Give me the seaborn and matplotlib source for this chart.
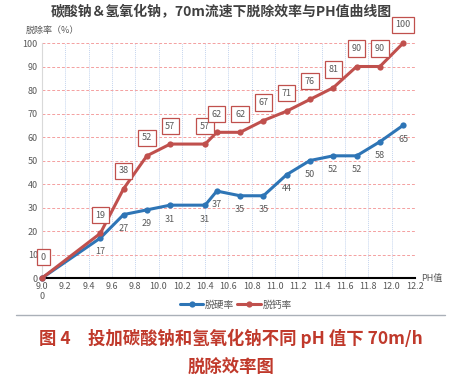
import matplotlib
matplotlib.use("Agg")
import matplotlib.pyplot as plt
import seaborn as sns
import pandas as pd
import numpy as np

ph = [9.0, 9.5, 9.7, 9.9, 10.1, 10.4, 10.5, 10.7, 10.9, 11.1, 11.3, 11.5, 11.7, 11.9, 12.1]
hard = [0, 17, 27, 29, 31, 31, 37, 35, 35, 44, 50, 52, 52, 58, 65]
calc = [0, 19, 38, 52, 57, 57, 62, 62, 67, 71, 76, 81, 90, 90, 100]
series_names = ["脱硬率", "脱钙率"]
xticks = [9.0, 9.2, 9.4, 9.6, 9.8, 10.0, 10.2, 10.4, 10.6, 10.8, 11.0, 11.2, 11.4, 11.6, 11.8, 12.0, 12.2]

sns.set_style("white")
plt.rcParams['font.family'] = ['Noto Sans CJK SC', 'DejaVu Sans']

df = pd.DataFrame({
    "pH": ph * 2,
    "rate": hard + calc,
    "series": [series_names[0]] * len(ph) + [series_names[1]] * len(ph),
})

blue = "#2e75b6"
red = "#c0504d"

fig = plt.figure(figsize=(4.62, 3.84), dpi=100)
ax = fig.add_axes([0.091, 0.276, 0.807, 0.612])

sns.lineplot(data=df, x="pH", y="rate", hue="series", palette=[blue, red],
             marker="o", markersize=4.5, markeredgewidth=0, linewidth=2.2,
             ax=ax, legend=True, clip_on=False, zorder=3)

ax.set_xlim(9.0, 12.2)
ax.set_ylim(0, 100)
ax.set_xticks(xticks)
ax.set_xticklabels([f"{t:.1f}" for t in xticks])
ax.set_yticks(range(0, 101, 10))
ax.tick_params(axis="both", labelsize=6.5, labelcolor="#595959", length=0, pad=3)
ax.tick_params(axis="x", length=3, direction="in", color="black", width=1)

for y in range(10, 101, 10):
    ax.axhline(y, color="#f4a0a0", linestyle=(0, (3, 2)), linewidth=0.7, zorder=1)
for x in xticks[1:]:
    ax.axvline(x, color="#c5d5ee", linestyle=(0, (1, 1)), linewidth=0.7, zorder=1)

for s in ["top", "right"]:
    ax.spines[s].set_visible(False)
ax.spines["left"].set_color("#d9d9d9")
ax.spines["left"].set_linewidth(0.8)
ax.spines["bottom"].set_color("black")
ax.spines["bottom"].set_linewidth(1.5)
ax.set_xlabel("")
ax.set_ylabel("")

# labels
box = dict(boxstyle="square,pad=0.4", fc="white", ec=red, lw=0.9)
for i, (x, v) in enumerate(zip(ph, calc)):
    off = (1, 15) if i == 0 else (0, 13)
    ax.annotate(str(v), (x, v), xytext=off, textcoords="offset points",
                ha="center", va="center", fontsize=6.5, color="#595959",
                bbox=box, annotation_clip=False, zorder=5)
for i, (x, v) in enumerate(zip(ph, hard)):
    dy = -10 if i != 0 else -13
    ax.annotate(str(v), (x, v), xytext=(0, dy), textcoords="offset points",
                ha="center", va="center", fontsize=6.5, color="#595959",
                annotation_clip=False, zorder=5)

leg = ax.legend(loc="upper center", bbox_to_anchor=(0.52, -0.055), ncol=2,
                frameon=False, fontsize=7, handlelength=2.4, columnspacing=0.3,
                handletextpad=0.2, labelcolor="#595959")

fig.text(0.478, 0.968, "碳酸钠＆氢氧化钠，70m流速下脱除效率与PH值曲线图",
         ha="center", va="center", fontsize=10, fontweight="bold", color="#404040")
fig.text(0.055, 0.922, "脱除率（%）", ha="left", va="center", fontsize=6.5, color="#595959")
fig.text(0.912, 0.276, "PH值", ha="left", va="center", fontsize=6.5, color="#595959")

fig.add_artist(plt.Line2D([0.035, 0.963], [0.18, 0.18], color="#aab0b8", linewidth=1))
fig.text(0.5, 0.12, "图 4　投加碳酸钠和氢氧化钠不同 pH 值下 70m/h",
         ha="center", va="center", fontsize=12.5, fontweight="bold", color="#c0392b")
fig.text(0.5, 0.045, "脱除效率图",
         ha="center", va="center", fontsize=12.5, fontweight="bold", color="#c0392b")

fig.savefig("out.png", dpi=100)
